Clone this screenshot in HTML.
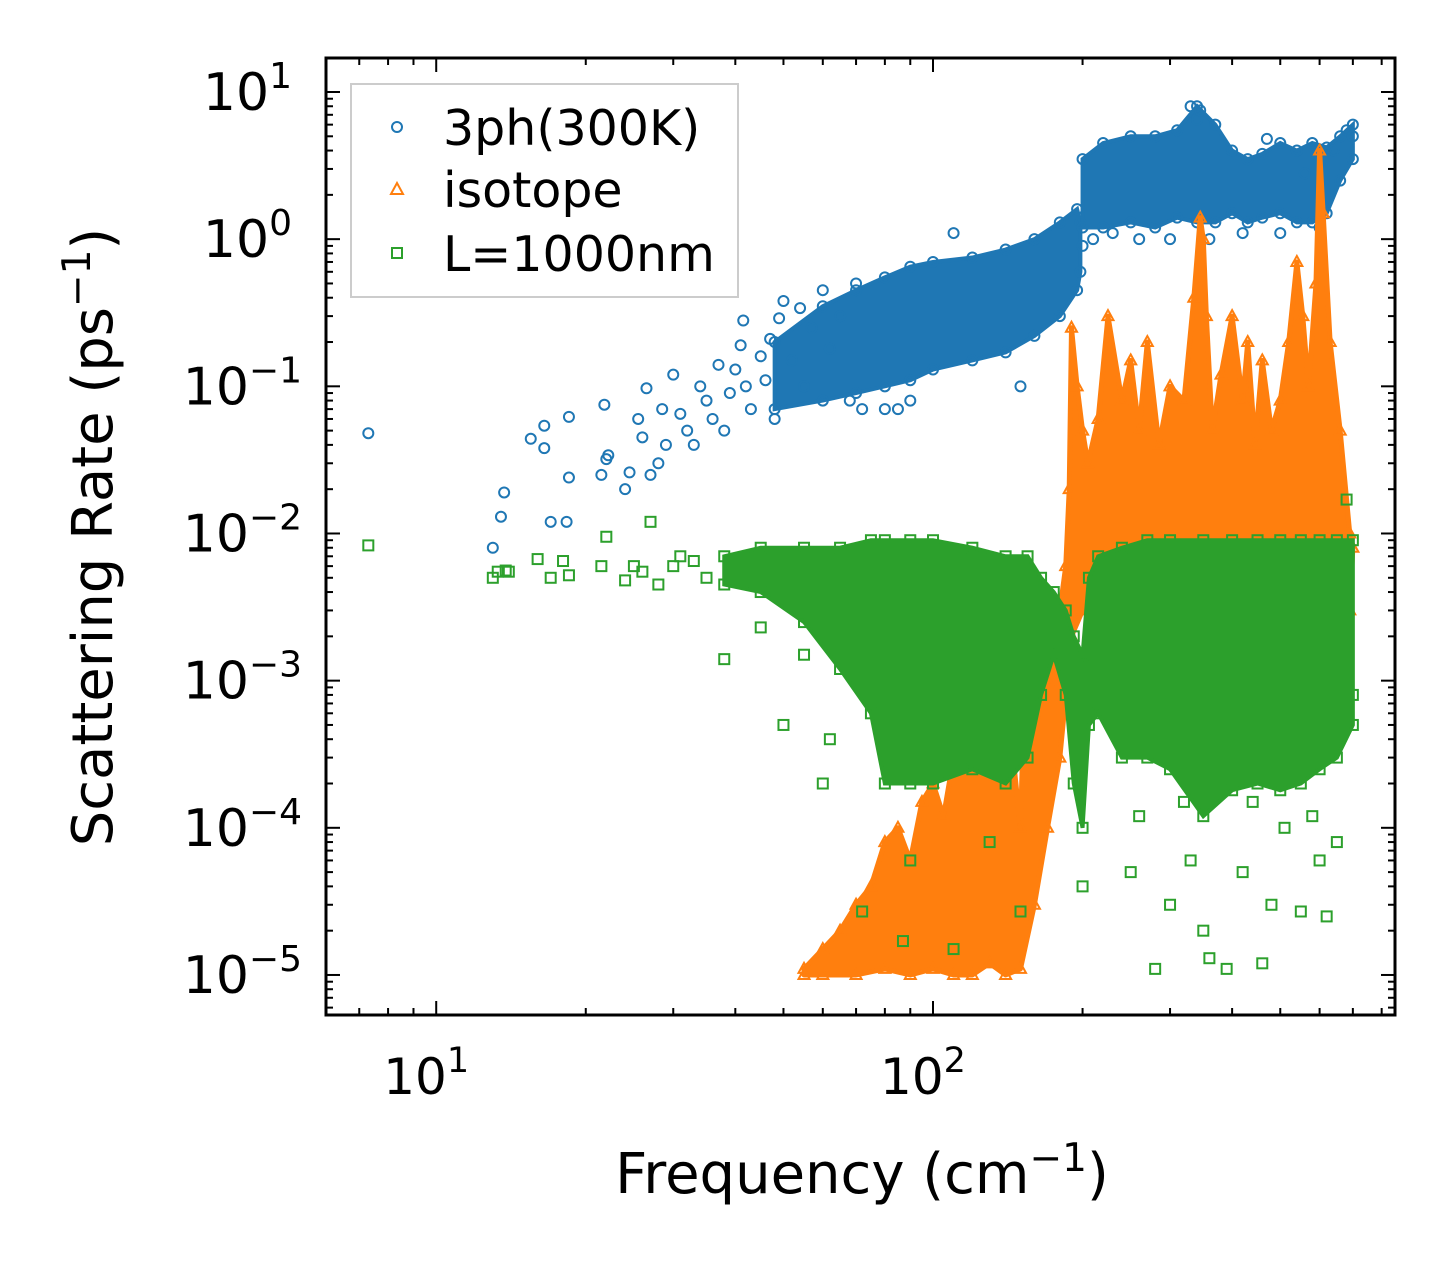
<!DOCTYPE html>
<html><head><meta charset="utf-8"><style>
body{margin:0;background:#fff;}
svg{display:block;font-family:"DejaVu Sans","Liberation Sans",sans-serif;}
</style></head><body>
<svg id="chart" width="1455" height="1265" viewBox="0 0 1455 1265" xmlns="http://www.w3.org/2000/svg">
<rect width="1455" height="1265" fill="#fff"/>
<g id="plot"></g>
<g id="axes"></g>
<text x="862" y="1193" font-size="56" text-anchor="middle">Frequency (cm<tspan dy="-22" font-size="39">−1</tspan><tspan dy="22">)</tspan></text>
<text transform="translate(112,537) rotate(-90)" font-size="56" text-anchor="middle">Scattering Rate (ps<tspan dy="-22" font-size="39">−1</tspan><tspan dy="22">)</tspan></text>
<g>
<rect x="351" y="84" width="387" height="213" fill="#fff" fill-opacity="0.85" stroke="#ccc" stroke-width="2"/>
<circle cx="397" cy="127" r="5" fill="none" stroke="#1f77b4" stroke-width="2"/>
<text x="443" y="145" font-size="49">3ph(300K)</text>
<path d="M397,183 L403,194 L391,194 Z" fill="none" stroke="#ff7f0e" stroke-width="2"/>
<text x="443" y="207" font-size="49">isotope</text>
<rect x="392" y="248" width="10" height="10" fill="none" stroke="#2ca02c" stroke-width="2"/>
<text x="443" y="271" font-size="49">L=1000nm</text>
</g>
</svg>
<script>
// ---- data ----
const blueFreq=[7.3,13,13.5,13.7,15.5,16.5,16.5,17,18.3,18.5,18.5,21.5,21.8,22,22.2,24,24.5,25.5,26,26.5,27,28,28.5,29,30,31,32,33,34,35,36,37,38,39,40,41,41.5,42,43,45,46,47,48,49,50,52,54,55,57,60,62,65,68,70,72,80,85,90,110,150,200,210,230,260,300,330,340,345,360,420,470,500,560,600,640,680,700];
const blueRate=[0.048,0.008,0.013,0.019,0.044,0.054,0.038,0.012,0.012,0.024,0.062,0.025,0.075,0.032,0.034,0.02,0.026,0.06,0.045,0.097,0.025,0.03,0.07,0.04,0.12,0.065,0.05,0.04,0.1,0.08,0.06,0.14,0.05,0.09,0.13,0.19,0.28,0.1,0.07,0.16,0.11,0.21,0.06,0.29,0.38,0.15,0.34,0.1,0.25,0.45,0.18,0.3,0.08,0.5,0.07,0.07,0.07,0.08,1.1,0.1,0.9,1.0,1.1,1.0,1.0,8.0,6.5,7.5,1.0,1.1,4.8,1.1,2.8,1.2,4.0,5.5,5.0];
const blueBandFreq=[48,60,70,80,90,100,120,140,160,180,195,198];
const blueBandLo=[0.07,0.08,0.09,0.1,0.11,0.13,0.15,0.17,0.22,0.3,0.45,0.6];
const blueBandHi=[0.2,0.35,0.45,0.55,0.65,0.7,0.75,0.85,1.0,1.3,1.6,1.3];
const blueBand2Freq=[200,220,250,280,310,340,370,400,430,460,500,540,580,620,660,700];
const blueBand2Lo=[1.2,1.2,1.3,1.2,1.4,1.3,1.3,1.5,1.3,1.4,1.5,1.3,1.3,1.5,2.5,3.5];
const blueBand2Hi=[3.5,4.5,5.0,5.0,5.5,8.0,6.0,4.0,3.5,3.8,4.5,4.0,4.5,4.2,5.0,6.0];
const isoEdgeFreq=[55,60,65,70,75,80,85,90,95,100,105,110,115,120,125,130,135,140,145,150,152,155,160,165,170,175,180,185,188,190,195,200,205,215,225,240,250,260,270,285,300,320,335,345,350,355,365,380,400,420,430,445,460,480,500,520,540,555,570,590,600,610,630,660,690,700,690,660,640,620,600,580,560,540,520,500,480,460,440,420,400,380,360,340,320,300,280,260,240,220,200,190,180,170,160,150,140,130,120,110,100,90,80,70,60,55];
const isoEdgeRate=[1.1e-5,1.5e-5,2e-5,3e-5,4e-5,8e-5,1e-4,6e-5,1.5e-4,2e-4,1.2e-4,3e-4,5e-4,3e-4,8e-4,1.2e-3,5e-4,2e-4,3e-4,1e-4,5e-4,4e-4,6e-4,8e-4,1e-3,1.5e-3,3e-3,6e-3,2e-2,0.25,0.1,0.05,0.03,0.06,0.3,0.08,0.15,0.05,0.2,0.04,0.1,0.08,0.4,1.4,1.0,0.3,0.05,0.12,0.3,0.08,0.2,0.04,0.15,0.05,0.08,0.2,0.7,0.3,0.1,0.5,4.0,1.5,0.2,0.05,0.01,0.008,0.003,0.003,0.004,0.006,0.005,0.004,0.004,0.005,0.004,0.005,0.004,0.004,0.005,0.004,0.005,0.004,0.005,0.004,0.004,0.005,0.004,0.004,0.004,0.004,0.003,2e-3,3e-4,1e-4,3e-5,1.1e-5,1e-5,1.2e-5,1e-5,1e-5,1.1e-5,1e-5,1.1e-5,1e-5,1e-5,1e-5];
const greenFreq=[7.3,13,13.3,13.8,14,16,17,18,18.5,21.5,22,24,25,26,27,28,30,31,33,35,38,45,50,55,60,62,72,87,90,110,130,150,200,250,280,300,330,350,360,390,420,460,480,550,600,620,650,700,260,320,440,510,580,680];
const greenRate=[0.0083,0.005,0.0055,0.0056,0.0055,0.0067,0.005,0.0065,0.0052,0.006,0.0095,0.0048,0.006,0.0055,0.012,0.0045,0.006,0.007,0.0065,0.005,0.0014,0.0023,0.0005,0.0015,0.0002,0.0004,2.7e-5,1.7e-5,6e-5,1.5e-5,8e-5,2.7e-5,4e-5,5e-5,1.1e-5,3e-5,6e-5,2e-5,1.3e-5,1.1e-5,5e-5,1.2e-5,3e-5,2.7e-5,6e-5,2.5e-5,8e-5,0.0008,0.00012,0.00015,0.00015,0.0001,0.00012,0.017];
const greenBandFreq=[38,45,55,65,75,80,90,100,120,140,155,165,175,185,192,200,206,215,240,270,300,350,400,450,500,550,600,650,700];
const greenBandLo=[0.0045,0.004,0.0025,0.0012,0.0006,0.0002,0.0002,0.0002,0.00025,0.0002,0.0003,0.0008,0.0015,0.0008,0.0002,0.0001,0.0005,0.0006,0.0003,0.0003,0.00025,0.00012,0.00018,0.0002,0.00018,0.0002,0.00025,0.0003,0.0005];
const greenBandHi=[0.007,0.008,0.008,0.008,0.009,0.009,0.009,0.009,0.008,0.007,0.007,0.005,0.004,0.003,0.002,0.0015,0.005,0.007,0.008,0.009,0.009,0.009,0.009,0.009,0.009,0.009,0.009,0.009,0.009];
const xTicks=[1,2];
const yTicks=[1,0,-1,-2,-3,-4,-5];
// ---- axes ----
const L=326,R=1395,T=58,B=1015;
const xMin=Math.log10(6.0),xMax=Math.log10(851),yMin=-5.272,yMax=1.231;
const X=v=>L+(Math.log10(v)-xMin)/(xMax-xMin)*(R-L);
const Y=v=>B-(Math.log10(v)-yMin)/(yMax-yMin)*(B-T);
const NS="http://www.w3.org/2000/svg";
const plot=document.getElementById('plot'),axes=document.getElementById('axes');
function mk(tag,attrs,parent){const e=document.createElementNS(NS,tag);for(const k in attrs)e.setAttribute(k,attrs[k]);parent.appendChild(e);return e;}
const clip=mk('clipPath',{id:'cp'},mk('defs',{},plot));mk('rect',{x:L,y:T,width:R-L,height:B-T},clip);
plot.setAttribute('clip-path','url(#cp)');
function band(fr,lo,hi,color,name){
  let d='M'+fr.map((f,i)=>X(f)+','+Y(hi[i])).join(' L');
  for(let i=fr.length-1;i>=0;i--)d+=' L'+X(fr[i])+','+Y(lo[i]);
  const p=mk('path',{d:d+'Z',fill:color,stroke:color,'stroke-width':4},plot);
  
  
}
function marker(type,f,v,color){
  const x=X(f),y=Y(v);let e;
  if(type==='c')e=mk('circle',{cx:x,cy:y,r:5,fill:'none',stroke:color,'stroke-width':2},plot);
  else if(type==='t')e=mk('path',{d:`M${x},${y-6} L${x+5.5},${y+4} L${x-5.5},${y+4}Z`,fill:'none',stroke:color,'stroke-width':2},plot);
  else e=mk('rect',{x:x-5,y:y-5,width:10,height:10,fill:'none',stroke:color,'stroke-width':2},plot);
  
  
}
// blue
band(blueBandFreq,blueBandLo,blueBandHi,'#1f77b4','3ph-band-low');
band(blueBand2Freq,blueBand2Lo,blueBand2Hi,'#1f77b4','3ph-band-high');
blueBandFreq.forEach((f,i)=>{marker('c',f,blueBandLo[i],'#1f77b4');marker('c',f,blueBandHi[i],'#1f77b4');});
blueBand2Freq.forEach((f,i)=>{marker('c',f,blueBand2Lo[i],'#1f77b4');marker('c',f,blueBand2Hi[i],'#1f77b4');});
blueFreq.forEach((f,i)=>marker('c',f,blueRate[i],'#1f77b4'));
// orange
{const d='M'+isoEdgeFreq.map((f,i)=>X(f)+','+Y(isoEdgeRate[i])).join(' L')+'Z';
const p=mk('path',{d:d,fill:'#ff7f0e',stroke:'#ff7f0e','stroke-width':5,'stroke-linejoin':'round'},plot);

}
isoEdgeFreq.forEach((f,i)=>marker('t',f,isoEdgeRate[i],'#ff7f0e'));
// green
band(greenBandFreq,greenBandLo,greenBandHi,'#2ca02c','boundary-band');
greenBandFreq.forEach((f,i)=>{marker('s',f,greenBandLo[i],'#2ca02c');marker('s',f,greenBandHi[i],'#2ca02c');});
greenFreq.forEach((f,i)=>marker('s',f,greenRate[i],'#2ca02c'));
// frame
const fr=mk('rect',{x:L,y:T,width:R-L,height:B-T,fill:'none',stroke:'#000','stroke-width':3},axes);


// x ticks
for(let e=0;e<=2;e++)for(let m=1;m<10;m++){const v=m*Math.pow(10,e);if(v<6||v>851)continue;const x=X(v),len=m===1?14:7;
  mk('line',{x1:x,y1:B,x2:x,y2:B-len,stroke:'#000','stroke-width':2},axes);mk('line',{x1:x,y1:T,x2:x,y2:T+len,stroke:'#000','stroke-width':2},axes);}
xTicks.forEach(e=>{const t=mk('text',{x:X(Math.pow(10,e))-10,y:1094,'font-size':50,'text-anchor':'middle'},axes);
  
  
  t.innerHTML='10<tspan dy="-22" font-size="35">'+e+'</tspan>';});
// y ticks
for(let e=-6;e<=1;e++)for(let m=1;m<10;m++){const v=m*Math.pow(10,e),lv=Math.log10(v);if(lv<yMin||lv>yMax)continue;const y=Y(v),len=m===1?14:7;
  mk('line',{x1:L,y1:y,x2:L+len,y2:y,stroke:'#000','stroke-width':2},axes);mk('line',{x1:R,y1:y,x2:R-len,y2:y,stroke:'#000','stroke-width':2},axes);}
yTicks.forEach(e=>{const t=mk('text',{x:e<0?302:292,y:Y(Math.pow(10,e))+18,'font-size':52,'text-anchor':'end'},axes);
  
  
  t.innerHTML='10<tspan dy="-22" font-size="36">'+(e<0?'−'+(-e):e)+'</tspan>';});
</script>
</body></html>
